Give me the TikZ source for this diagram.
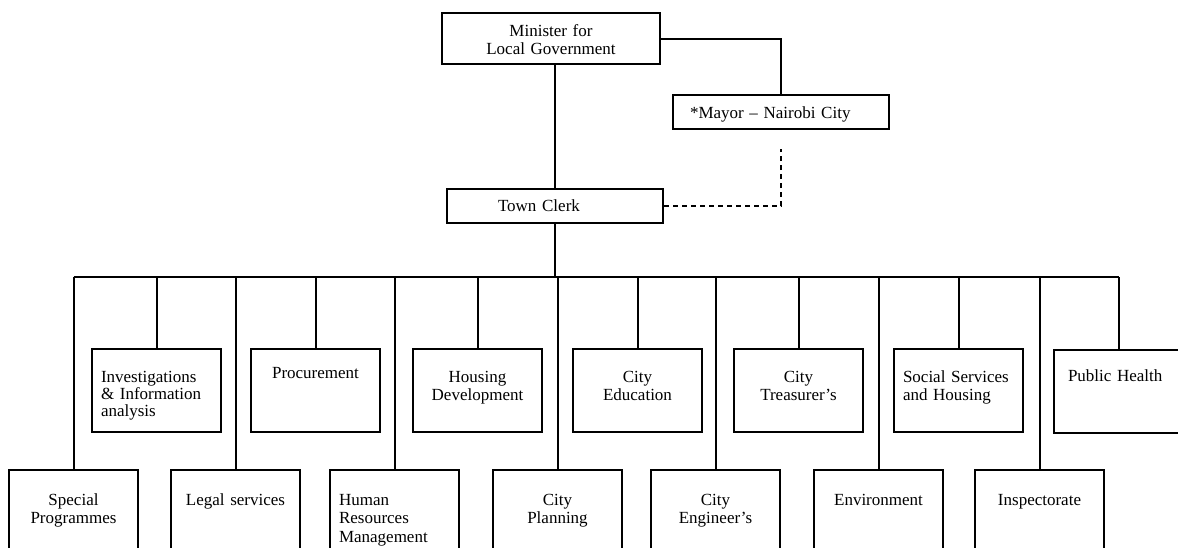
\documentclass[tikz,border=0pt]{standalone}
\usepackage{fontspec}
\setmainfont{Liberation Serif}
\tikzset{
  unit/.style={draw,rectangle,anchor=north west,inner ysep=0pt,
    font=\fontsize{17}{18.5}\selectfont},
  toprow/.style={unit,text height=33pt,text depth=50pt},
  botrow/.style={unit,text height=35pt,text depth=65pt},
  mid/.style={align=center,text width=121pt,inner xsep=4pt},
  lft/.style={align=left,text width=111pt,inner xsep=9pt}
}
\begin{document}
\begin{tikzpicture}[x=1pt,y=-1pt,line width=2pt]

      \path[use as bounding box] (0,0) rectangle (1178,547);
      \clip (0,0) rectangle (1178,547);

      \node[unit,align=center,text width=210pt,inner xsep=4pt,text height=23pt,text depth=28pt] (minister) at (441,12) {Minister for\\Local Government};
      \node[unit,align=left,text width=182pt,inner xsep=17pt,text height=23pt,text depth=11pt] (mayor) at (672,94) {*Mayor – Nairobi City};
      \node[unit,align=left,text width=114pt,inner xsep=51pt,text height=22pt,text depth=12pt] (clerk) at (446,188) {Town Clerk};

      \begin{scope}[every node/.style={toprow}]
        \node[lft,font=\fontsize{17}{17}\selectfont] (invest) at (91,348) {Investigations\\\& Information\\analysis};
        \node[mid,text height=29pt,text depth=54pt] (procure) at (250,348) {Procurement};
        \node[mid] (housing) at (412,348) {Housing\\Development};
        \node[mid] (educ) at (572,348) {City\\Education};
        \node[mid] (treas) at (733,348) {City\\Treasurer’s};
        \node[lft] (social) at (893,348) {Social Services\\and Housing};
        \node[align=left,text width=101pt,inner xsep=14pt,text height=31pt,text depth=52pt] (health) at (1053,349) {Public Health};
      \end{scope}

      \begin{scope}[every node/.style={botrow}]
        \node[mid] (special) at (8,469) {Special\\Programmes};
        \node[mid] (legal) at (170,469) {Legal services};
        \node[lft] (hrm) at (329,469) {Human\\Resources\\Management};
        \node[mid] (planning) at (492,469) {City\\Planning};
        \node[mid] (engineer) at (650,469) {City\\Engineer’s};
        \node[mid] (environ) at (813,469) {Environment};
        \node[mid] (inspect) at (974,469) {Inspectorate};
      \end{scope}

      \coordinate (bus) at (556,277);
      \coordinate (mayorlink) at ([yshift=-19pt]mayor.south);

      \draw (clerk.north) -- (clerk.north |- minister.south);
      \draw (minister.east) -| (mayor.north);
      \draw[dash pattern=on 5pt off 4pt] (clerk.east) -| (mayorlink);
      \draw (clerk.south) -- (clerk.south |- bus);
      \draw (special.north |- bus) -- (health.north |- bus);

      \begin{scope}[every edge/.style={draw}]
        \foreach \u in {invest,procure,housing,educ,treas,social,health,
                        special,legal,hrm,planning,engineer,environ,inspect}
          \path (\u.north |- bus) edge (\u.north);
      \end{scope}

    \end{tikzpicture}
\end{document}
